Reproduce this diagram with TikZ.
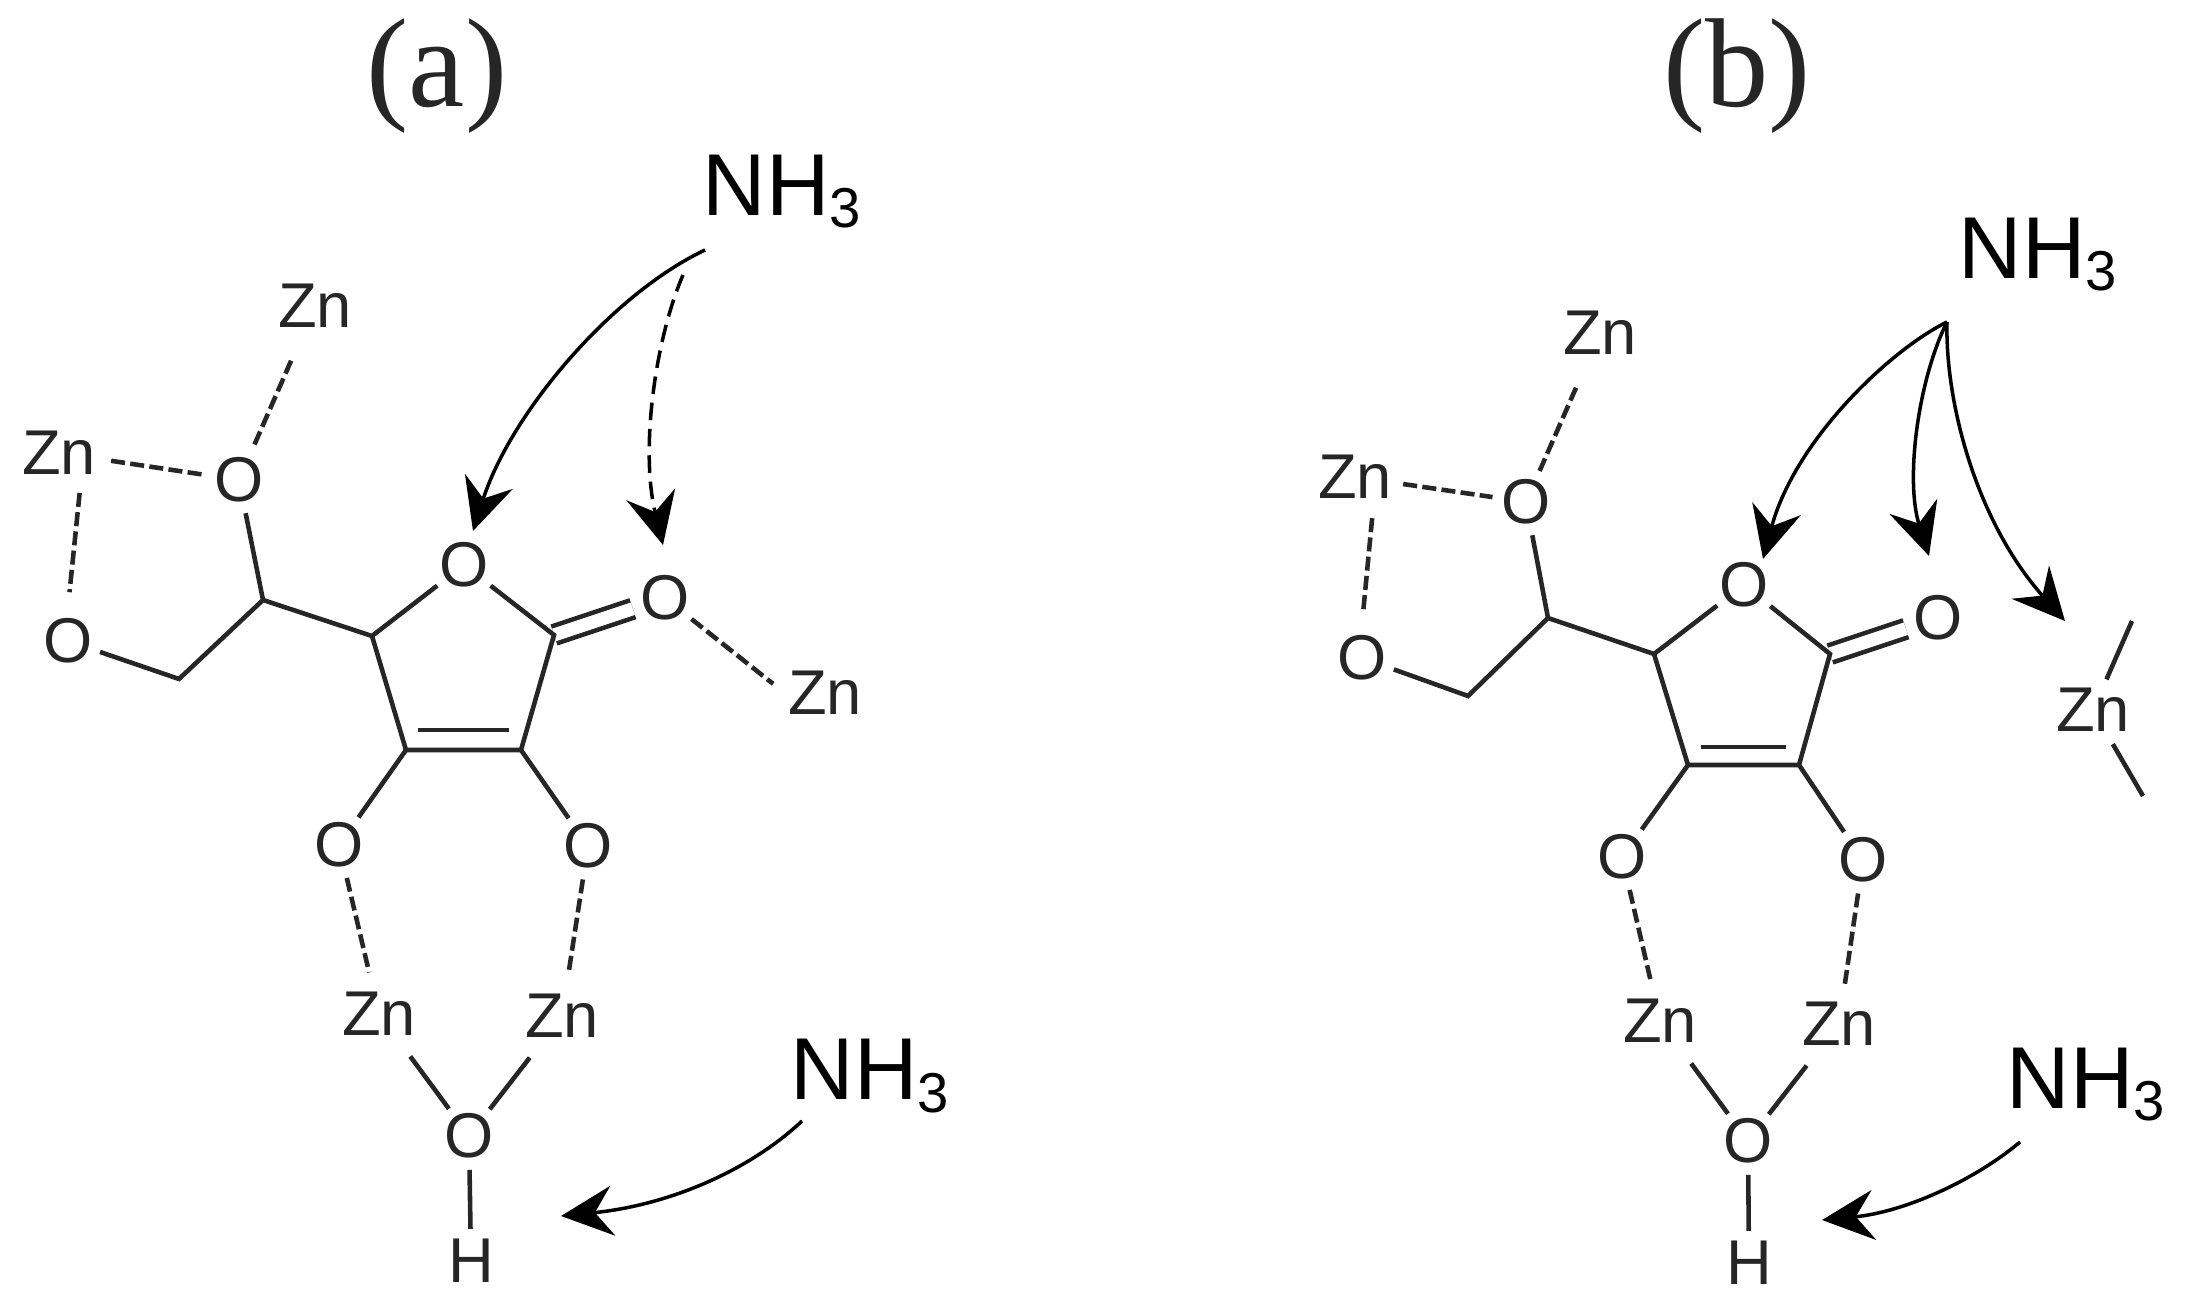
\documentclass[tikz,border=0pt]{standalone}
\usepackage{fontspec}
\setmainfont{Liberation Sans}
\newfontfamily\titlefont{Liberation Serif}
\usetikzlibrary{arrows.meta}
\definecolor{inkgray}{HTML}{262626}
\newcommand{\nhthree}{NH\raisebox{-1.2mm}{\fontsize{16}{16}\selectfont 3}}
\tikzset{
	atom/.style={circle, inner sep=0pt, text=inkgray, font=\fontsize{18}{20}\selectfont},
	znatom/.style={atom, minimum size=10.4mm},
	panel/.style={font=\titlefont\fontsize{36}{38}\selectfont, text=inkgray},
	amine/.style={anchor=base west, inner sep=0pt, font=\fontsize{25}{27}\selectfont, text=black},
	bond/.style={line width=1.3pt, color=inkgray},
	weak/.style={bond, dash pattern=on 4pt off 1.5pt},
	dbl/.style={line width=1.3pt, color=inkgray, double, double distance=1.3mm},
	attack/.style={line width=1pt, color=black, -{Stealth[length=5.2mm, width=5mm, inset=1.8mm]}},
}

\begin{document}
\begin{tikzpicture}[x=0.1mm, y=-0.1mm]
	%%%%% START %%%%%
	\useasboundingbox (0, 0) rectangle (2185, 1304);

	%%%%% panel a %%%%%
	\node[panel] (labela) at (437, 76) {(a)};
	\node[amine] (nha) at (702, 216) {\nhthree};
	\node[amine] (nhc) at (790, 1100) {\nhthree};

	\node[znatom] (zna) at (315, 306) {Zn};
	\node[znatom] (znb) at (59, 453) {Zn};
	\node[znatom] (znc) at (825, 693) {Zn};
	\node[znatom] (znd) at (379, 1014) {Zn};
	\node[znatom] (zne) at (562, 1016) {Zn};
	\node[atom] (oa) at (239, 480) {O};
	\node[atom] (ob) at (68, 641) {O};
	\node[atom] (oc) at (464, 565) {O};
	\node[atom] (od) at (665, 598) {O};
	\node[atom] (oe) at (339, 845) {O};
	\node[atom] (of) at (588, 846) {O};
	\node[atom] (og) at (469, 1136) {O};
	\node[atom] (ha) at (471, 1261) {H};

	\coordinate (ca) at (263, 600);
	\coordinate (cb) at (179, 679);
	\coordinate (cc) at (372, 636);
	\coordinate (cd) at (554, 635);
	\coordinate (ce) at (406, 750);
	\coordinate (cf) at (521, 750);
	\coordinate (cea) at (418, 730);
	\coordinate (cfa) at (509, 730);

	\draw[dbl] (cd) -- (od);
	\draw[bond] (oa) -- (ca) -- (cb) -- (ob);
	\draw[bond] (ca) -- (cc) -- (oc) -- (cd) -- (cf) -- (ce) -- (cc);
	\draw[bond] (cea) -- (cfa);
	\draw[bond] (ce) -- (oe);
	\draw[bond] (cf) -- (of);
	\draw[bond] (znd) -- (og);
	\draw[bond] (zne) -- (og);
	\draw[bond] (og) -- (ha);

	\draw[weak, shorten <=0.7mm] (zna) -- (oa);
	\draw[weak] (znb) -- (oa);
	\draw[weak, shorten <=-0.9mm, shorten >=1.5mm] (znb.-68) -- (ob.90);
	\draw[weak] (od) -- (znc.170);
	\draw[weak, shorten >=-1mm] (oe) -- (znd);
	\draw[weak, shorten >=-1mm] (of) -- (zne);

	\coordinate (srca) at (705, 250);
	\coordinate (srcb) at (683, 275);
	\coordinate (srcc) at (802, 1121);
	\coordinate (tipa) at (473, 531);
	\coordinate (tipb) at (663, 545);
	\coordinate (tipc) at (561, 1216);

	\draw[attack] (srca) .. controls (610, 295) and (510, 415) .. (tipa);
	\draw[attack, dash pattern=on 5pt off 2.5pt] (srcb) .. controls (655, 340) and (640, 450) .. (tipb);
	\draw[attack] (srcc) .. controls (750, 1170) and (670, 1205) .. (tipc);

	%%%%% panel b %%%%%
	\node[panel] (labelb) at (1737, 76) {(b)};
	\node[amine] (nhb) at (1958, 279) {\nhthree};
	\node[amine] (nhd) at (2006, 1108) {\nhthree};

	\node[znatom] (znf) at (1600, 333) {Zn};
	\node[znatom] (zng) at (1355, 477) {Zn};
	\node[znatom] (znh) at (1660, 1021) {Zn};
	\node[znatom] (zni) at (1839, 1024) {Zn};
	\node[atom] (znj) at (2093, 710) {Zn};
	\node[atom] (oh) at (1526, 502) {O};
	\node[atom] (oi) at (1362, 658) {O};
	\node[atom] (oj) at (1744, 585) {O};
	\node[atom] (ok) at (1938, 618) {O};
	\node[atom] (ol) at (1622, 857) {O};
	\node[atom] (om) at (1863, 860) {O};
	\node[atom] (on) at (1748, 1141) {O};
	\node[atom] (hb) at (1749, 1263) {H};

	\coordinate (cg) at (1548, 618);
	\coordinate (ch) at (1468, 696);
	\coordinate (ci) at (1654, 654);
	\coordinate (cj) at (1830, 654);
	\coordinate (ck) at (1688, 765);
	\coordinate (cl) at (1799, 765);
	\coordinate (cka) at (1701, 747);
	\coordinate (cla) at (1786, 747);
	\coordinate (zntop) at (2132, 621);
	\coordinate (znbot) at (2143, 796);

	\draw[dbl] (cj) -- (ok);
	\draw[bond] (oh) -- (cg) -- (ch) -- (oi);
	\draw[bond] (cg) -- (ci) -- (oj) -- (cj) -- (cl) -- (ck) -- (ci);
	\draw[bond] (cka) -- (cla);
	\draw[bond] (ck) -- (ol);
	\draw[bond] (cl) -- (om);
	\draw[bond] (znh) -- (on);
	\draw[bond] (zni) -- (on);
	\draw[bond] (on) -- (hb);
	\draw[bond, shorten <=-1mm] (znj) -- (zntop);
	\draw[bond, shorten <=-0.4mm] (znj) -- (znbot);

	\draw[weak, shorten <=0.7mm] (znf) -- (oh);
	\draw[weak, shorten <=-0.4mm] (zng) -- (oh);
	\draw[weak, shorten <=-0.9mm, shorten >=1.4mm] (zng.-72) -- (oi.90);
	\draw[weak, shorten >=-1mm] (ol) -- (znh);
	\draw[weak, shorten >=-1.2mm] (om) -- (zni);

	\coordinate (srcd) at (1947, 322);
	\coordinate (srce) at (2020, 1142);
	\coordinate (tipd) at (1763, 559);
	\coordinate (tipe) at (1929, 556);
	\coordinate (tipf) at (2065, 621);
	\coordinate (tipg) at (1822, 1220);

	\draw[attack] (srcd) .. controls (1890, 350) and (1795, 440) .. (tipd);
	\draw[attack] (srcd) .. controls (1918, 380) and (1905, 480) .. (tipe);
	\draw[attack] (srcd) .. controls (1945, 400) and (1975, 520) .. (tipf);
	\draw[attack] (srce) .. controls (1975, 1180) and (1905, 1212) .. (tipg);
	%%%%% END %%%%%
\end{tikzpicture}
\end{document}
